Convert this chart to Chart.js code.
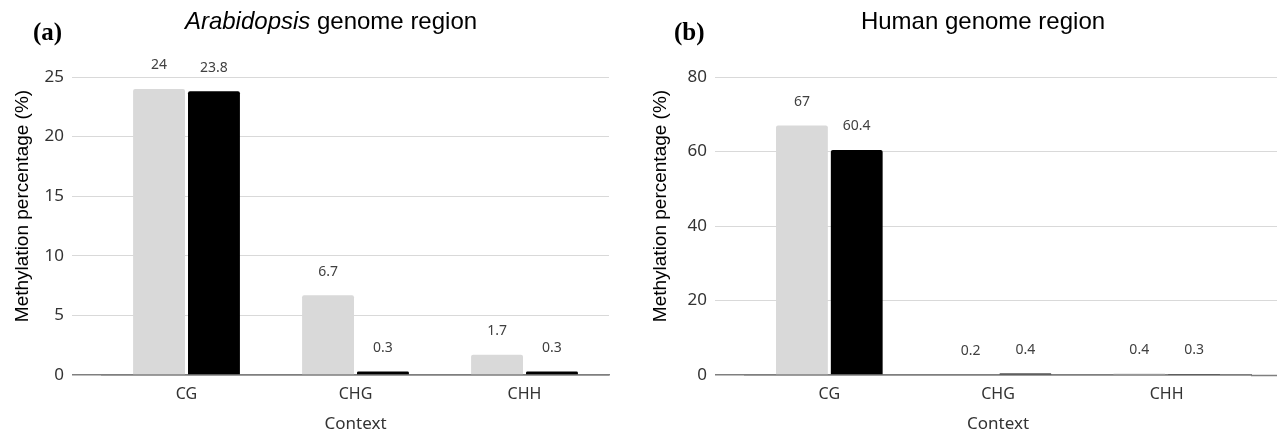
<!DOCTYPE html>
<html>
<head>
<meta charset="utf-8">
<script src="https://cdn.jsdelivr.net/npm/chart.js@4/dist/chart.umd.min.js"></script>
<style>
    body { margin: 0; background: #fff; }
    #page { position: relative; width: 1277px; height: 434px; overflow: hidden; }
    canvas { position: absolute; top: 0; }
    .panel { position: absolute; font: bold 25px "Liberation Serif", serif; line-height: 25px; color: #000; }
    .title { position: absolute; width: 500px; text-align: center; font: 24px "Liberation Sans", Arial, sans-serif; line-height: 24px; color: #000; }
    .ytitle { position: absolute; width: 320px; text-align: center; font: 19px "Liberation Sans", Arial, sans-serif; line-height: 22px; color: #000; transform: rotate(-90deg); }
</style>
</head>
<body>
<div id="page">
    <canvas id="chartA" width="640" height="434" style="left:0"></canvas>
    <canvas id="chartB" width="637" height="434" style="left:640px"></canvas>

    <div class="panel" style="left:33px; top:19px">(a)</div>
    <div class="title" style="left:81px; top:9px"><i>Arabidopsis</i> genome region</div>
    <div class="ytitle" style="left:-138px; top:195px">Methylation percentage (%)</div>

    <div class="panel" style="left:674px; top:19px">(b)</div>
    <div class="title" style="left:733px; top:9px">Human genome region</div>
    <div class="ytitle" style="left:500px; top:195px">Methylation percentage (%)</div>
</div>

<script>
const contexts = ['CG', 'CHG', 'CHH'];

const arabidopsisGrey = [24, 6.7, 1.7];
const arabidopsisBlack = [23.8, 0.3, 0.3];
const arabidopsisTicks = [0, 5, 10, 15, 20, 25];

const humanGrey = [67, 0.2, 0.4];
const humanBlack = [60.4, 0.4, 0.3];
const humanTicks = [0, 20, 40, 60, 80];

const GRID = '#d9d9d9';
const BASE = '#7f7f7f';

// value labels above each bar
const barLabels = {
    id: 'barLabels',
    afterDatasetsDraw(chart) {
        const ctx = chart.ctx;
        ctx.save();
        ctx.font = '14px "Noto Sans", sans-serif';
        ctx.fillStyle = '#404040';
        ctx.textAlign = 'center';
        ctx.textBaseline = 'middle';
        chart.data.datasets.forEach((ds, i) => {
            chart.getDatasetMeta(i).data.forEach((bar, j) => {
                ctx.fillText(String(ds.data[j]), bar.x, bar.y - 23.5);
            });
        });
        ctx.restore();
    }
};

function makeChart(id, grey, black, ticks, yWidth, rightExtra) {
    const isBase = c => c.tick && c.tick.value === 0;
    const lineColor = c => (isBase(c) ? BASE : GRID);
    const lineWidth = c => (isBase(c) ? 1.5 : 1);
    const scales = {
        x: {
            grid: { display: false, drawTicks: false },
            border: { display: true, color: BASE, width: 1.5 },
            ticks: { color: '#333', font: { family: 'Noto Sans', size: 16 }, padding: 10 },
            title: { display: true, text: 'Context', color: '#333', font: { family: 'Noto Sans', size: 17 }, padding: 0 },
            afterFit: s => { s.height = 59; }
        },
        y: {
            min: ticks[0],
            max: ticks[ticks.length - 1],
            grid: { color: lineColor, tickColor: lineColor, lineWidth: lineWidth, tickWidth: lineWidth, tickLength: 30 },
            border: { display: false },
            ticks: { stepSize: ticks[1] - ticks[0], color: '#333', font: { family: 'Noto Sans', size: 17 }, padding: 8 },
            afterFit: s => { s.width = yWidth; }
        }
    };
    if (rightExtra) {
        // grid lines run a bit past the last category on the right
        scales.y2 = {
            position: 'right',
            min: ticks[0],
            max: ticks[ticks.length - 1],
            grid: { drawOnChartArea: false, color: lineColor, tickColor: lineColor, tickWidth: lineWidth, tickLength: rightExtra },
            border: { display: false },
            ticks: { display: false, stepSize: ticks[1] - ticks[0] },
            afterFit: s => { s.width = rightExtra; }
        };
    }
    return new Chart(document.getElementById(id), {
        type: 'bar',
        data: {
            labels: contexts,
            datasets: [
                { label: 'Series 1', data: grey, backgroundColor: '#d9d9d9', borderRadius: { topLeft: 2, topRight: 2 }, yAxisID: 'y' },
                { label: 'Series 2', data: black, backgroundColor: '#000000', borderRadius: { topLeft: 2, topRight: 2 }, yAxisID: 'y' }
            ]
        },
        options: {
            responsive: false,
            animation: false,
            devicePixelRatio: 1,
            categoryPercentage: 0.65,
            barPercentage: 0.945,
            layout: { padding: { top: 77, left: 0, right: rightExtra ? 0 : 31, bottom: 0 } },
            plugins: { legend: { display: false }, tooltip: { enabled: false } },
            scales: scales
        },
        plugins: [barLabels]
    });
}

makeChart('chartA', arabidopsisGrey, arabidopsisBlack, arabidopsisTicks, 102, 0);
makeChart('chartB', humanGrey, humanBlack, humanTicks, 105, 26);
</script>
</body>
</html>
